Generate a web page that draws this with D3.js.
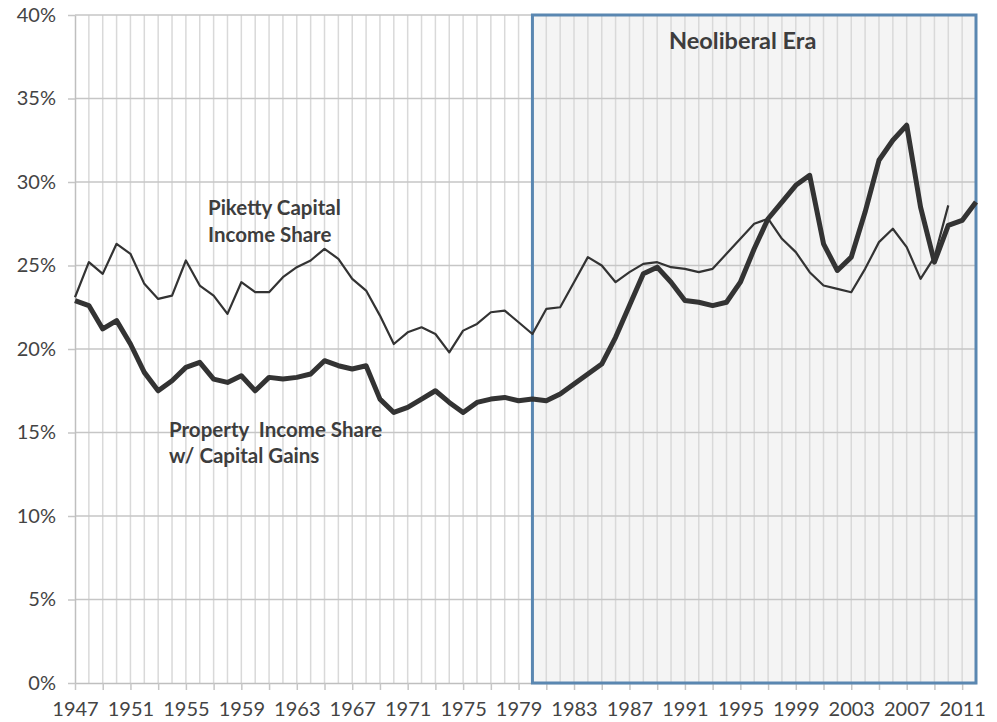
<!DOCTYPE html>
<html>
<head>
<meta charset="utf-8">
<script src="https://cdn.jsdelivr.net/npm/d3@7"></script>
<style>
  body { margin: 0; background: #fff; }
  svg { display: block; font-family: Lato, "Open Sans", sans-serif; }
</style>
</head>
<body>
<svg id="chart"></svg>
<script>
// years on the category axis
const years = d3.range(1947, 2013);
const yTicks = [0, 5, 10, 15, 20, 25, 30, 35, 40];
const labelYears = [1947, 1951, 1955, 1959, 1963, 1967, 1971, 1975, 1979, 1983, 1987, 1991, 1995, 1999, 2003, 2007, 2011];
const eraStart = 1980, eraEnd = 2012;

// Piketty capital income share, 1947-2010 (%)
const piketty = [23.1, 25.2, 24.5, 26.3, 25.7, 23.9, 23.0, 23.2, 25.3, 23.8,
  23.2, 22.1, 24.0, 23.4, 23.4, 24.3, 24.9, 25.3, 26.0, 25.4,
  24.2, 23.5, 22.0, 20.3, 21.0, 21.3, 20.9, 19.8, 21.1, 21.5,
  22.2, 22.3, 21.6, 20.9, 22.4, 22.5, 24.0, 25.5, 25.0, 24.0,
  24.6, 25.1, 25.2, 24.9, 24.8, 24.6, 24.8, 25.7, 26.6, 27.5,
  27.8, 26.6, 25.8, 24.6, 23.8, 23.6, 23.4, 24.8, 26.4, 27.2,
  26.1, 24.2, 25.5, 28.6];

// property income share with capital gains, 1947-2012 (%)
const property = [22.9, 22.6, 21.2, 21.7, 20.3, 18.6, 17.5, 18.1, 18.9, 19.2,
  18.2, 18.0, 18.4, 17.5, 18.3, 18.2, 18.3, 18.5, 19.3, 19.0,
  18.8, 19.0, 17.0, 16.2, 16.5, 17.0, 17.5, 16.8, 16.2, 16.8,
  17.0, 17.1, 16.9, 17.0, 16.9, 17.3, 17.9, 18.5, 19.1, 20.7,
  22.6, 24.5, 24.9, 24.0, 22.9, 22.8, 22.6, 22.8, 24.0, 26.0,
  27.8, 28.8, 29.8, 30.4, 26.3, 24.7, 25.5, 28.2, 31.3, 32.5,
  33.4, 28.5, 25.2, 27.4, 27.7, 28.8];

const width = 997, height = 722;
const margin = { top: 15, right: 21, bottom: 39, left: 75 };

const svg = d3.select("#chart").attr("width", width).attr("height", height);

const x = d3.scaleLinear()
    .domain([years[0], years[years.length - 1]])
    .range([margin.left, width - margin.right]);
const y = d3.scaleLinear()
    .domain([0, 40])
    .range([height - margin.bottom, margin.top]);

// neoliberal era shading (under the grid)
svg.append("rect")
    .attr("x", x(eraStart))
    .attr("y", y(40))
    .attr("width", x(eraEnd) - x(eraStart))
    .attr("height", y(0) - y(40))
    .attr("fill", "#f4f4f4");

// vertical grid, one per year
svg.append("g")
    .selectAll("line")
    .data(years.slice(1))
    .join("line")
    .attr("x1", d => x(d)).attr("x2", d => x(d))
    .attr("y1", y(40)).attr("y2", y(0))
    .attr("stroke", "#d9d9d9")
    .attr("stroke-width", 1.5);

// horizontal grid
svg.append("g")
    .selectAll("line")
    .data(yTicks.slice(1))
    .join("line")
    .attr("x1", x(1947)).attr("x2", x(2012))
    .attr("y1", d => y(d)).attr("y2", d => y(d))
    .attr("stroke", "#c6c6c6")
    .attr("stroke-width", 1.6);

// y axis
const yAxis = svg.append("g")
    .attr("transform", `translate(${margin.left},0)`)
    .call(d3.axisLeft(y).tickValues(yTicks).tickFormat(d => d + "%").tickSize(7).tickSizeOuter(0).tickPadding(12));
yAxis.select(".domain").attr("stroke", "#bfbfbf").attr("stroke-width", 1.5);
yAxis.selectAll(".tick line").attr("stroke", "#c6c6c6").attr("stroke-width", 1.5);
yAxis.selectAll("text").attr("font-size", 20).attr("fill", "#444").attr("font-family", "Lato");

// x axis, tick every 2 years, label every 4
const xAxis = svg.append("g")
    .attr("transform", `translate(0,${y(0)})`)
    .call(d3.axisBottom(x).tickValues(years.filter(d => (d - 1947) % 2 === 0))
        .tickFormat(d => labelYears.includes(d) ? d : "")
        .tickSize(7).tickSizeOuter(0).tickPadding(12));
xAxis.select(".domain").attr("stroke", "#bfbfbf").attr("stroke-width", 1.5);
xAxis.selectAll(".tick line").attr("stroke", "#c6c6c6").attr("stroke-width", 1.5);
xAxis.selectAll("text").attr("font-size", 20).attr("fill", "#444").attr("font-family", "Lato");

// era box outline
svg.append("rect")
    .attr("x", x(eraStart))
    .attr("y", y(40))
    .attr("width", x(eraEnd) - x(eraStart))
    .attr("height", y(0) - y(40))
    .attr("fill", "none")
    .attr("stroke", "#5a87b1")
    .attr("stroke-width", 3);

// lines
const line = d3.line()
    .x((d, i) => x(years[i]))
    .y(d => y(d));

svg.append("path")
    .datum(piketty)
    .attr("d", line)
    .attr("fill", "none")
    .attr("stroke", "#333")
    .attr("stroke-width", 2.2)
    .attr("stroke-linejoin", "round");

svg.append("path")
    .datum(property)
    .attr("d", line)
    .attr("fill", "none")
    .attr("stroke", "#333")
    .attr("stroke-width", 5)
    .attr("stroke-linejoin", "round");

// annotations
const notes = svg.append("g")
    .attr("font-family", "Lato")
    .attr("font-weight", "bold")
    .attr("font-size", 20.5)
    .attr("fill", "#3d3d3d");
notes.append("text").attr("x", 208).attr("y", 215).text("Piketty Capital");
notes.append("text").attr("x", 208).attr("y", 242).text("Income Share");
notes.append("text").attr("x", 169).attr("y", 437).attr("xml:space", "preserve").text("Property  Income Share");
notes.append("text").attr("x", 169).attr("y", 463).text("w/ Capital Gains");
notes.append("text").attr("x", 669).attr("y", 49).attr("font-size", 23.5).text("Neoliberal Era");
</script>
</body>
</html>
